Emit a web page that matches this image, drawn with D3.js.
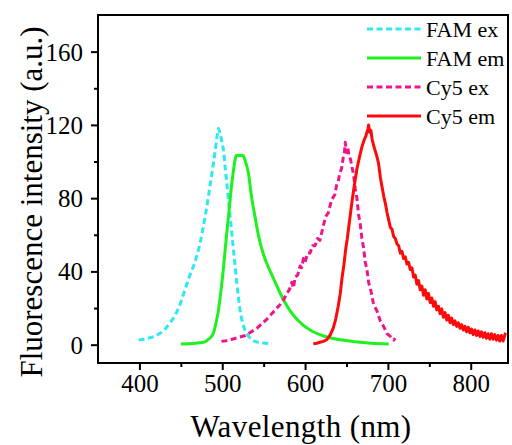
<!DOCTYPE html>
<meta charset="utf-8">
<style>
body { margin: 0; background: #fff; }
.line { fill: none; stroke-width: 3px; stroke-linejoin: round; }
</style>
<body>
<script src="https://d3js.org/d3.v7.min.js"></script>
<script>

// data: [wavelength (nm), intensity (a.u.)]
var famEx = [[399,2.5],[410,3.5],[420,5],[430,8],[437,12],[443,16],[449,22],[455,30],[461,38],[467,45],[473,55],[479,69],[483,80],[486,89],[489,98],[491.5,106],[493.5,113],[495.5,118],[497.5,115],[499.5,111],[501.5,106],[503.5,97],[505.5,88],[507.5,79],[509.5,70],[511.5,61],[513.5,52],[515.5,43],[517.5,34],[519.5,26],[521.5,19],[524,13],[527.5,8],[532,4.5],[538,2],[545,1.2],[550,0.9],[560,0.5]];

var famEm = [[450,0.4],[465,0.6],[471,0.9],[478,1.4],[482,2.5],[486,4],[489.5,6.5],[492.5,12],[495.5,19],[497.5,26],[499.5,33.5],[501.5,42],[503.5,51.7],[505.5,61],[507.5,70],[509.5,79],[511.5,88],[513.5,95],[515.5,101],[517,103.3],[525,103.3],[528,100],[531.5,94],[535,82],[539.5,70],[544,59],[550,49],[556,42],[562,36],[568,30],[574,24.5],[582,18.5],[590,14],[598,10.5],[608,7.5],[618,5.5],[630,3.8],[645,2.5],[660,1.6],[680,0.8],[701,0.4]];

var cy5Ex = [[499,1.8],[505,2.2],[512,3],[520,4],[528,5],[535,7],[542,9],[548,11.5],[554,14],[560,17],[565,19.5],[570,22],[574,24.5],[578,28],[581,30],[584,34],[586,31],[588,37],[591,38],[594,43],[596,42],[598,47],[600,45],[603,50],[606,50],[609,54],[612,54],[615,58],[618,57],[620,61],[622,65],[625,70],[628,72],[632,79],[636,82],[638,87],[640,89],[642,94],[644,96],[646,102],[647.5,105],[648.5,110.5],[650,105],[651.5,108],[653,103],[655,101],[656.6,97],[658.5,93],[660.6,85],[662.6,80],[664.6,71],[666.6,66],[668.6,58],[670.6,53],[672.7,45],[674.7,41],[676.7,34],[679.7,29],[682.7,22],[686.7,18.5],[690.8,13],[694.8,10],[698.9,6],[703,4.5],[707,2.5],[709,3.5]];

var cy5Em = [[610,0.5],[614,0.8],[618,1.3],[622,1.8],[626,2.7],[630,5],[634,9],[637,14],[640,21],[642.5,28],[644.5,36],[647,44],[649,52],[651,58],[653.5,67],[656.6,78],[659.5,87],[662.6,96],[665.5,102],[668.6,108],[671.5,112],[673.5,114],[674.7,116],[676,118],[676.7,120],[678,116],[679.5,117],[681,112],[682.7,109],[684.5,106],[686,104],[688.7,99],[691,91],[693,86],[695,81],[697,77],[699,72],[701,68],[703,64],[705,63],[707,59],[709,58],[711,55],[713,54],[715,50],[717,51],[719,47],[721,48],[723,44],[725,45],[727,41],[729,42],[731,37],[733,38],[735,33],[737,35],[739,30],[741,32],[743,27],[745,30],[747,25],[749,28],[751,23],[753,25.5],[755,21],[757,23.5],[759,19],[761,21],[763,17],[765,19.5],[767,15],[769,17.5],[771,13.5],[773,16],[775,12],[777,14.5],[779,11],[781,13],[783,10],[785,12],[787,9],[789,11],[791,8],[793,10],[795,7],[797,9.5],[799,6.5],[801,8.5],[803,5.5],[805,8],[807,5],[809,7.5],[811,4.5],[813,7],[815,4],[817,6.5],[819,3.5],[821,6],[823,3],[825,6],[827,3],[829,5.5],[831,2.5],[833,5],[835,2],[837,5],[839,2],[841,5],[842,6.5]];

var seriesNames = ["FAM ex", "FAM em", "Cy5 ex", "Cy5 em"];
var xTicks = [400, 500, 600, 700, 800];
var xMinor = [450, 550, 650, 750];
var yTicks = [0, 40, 80, 120, 160];
var yMinor = [20, 60, 100, 140];

var series = [
  {name: seriesNames[0], data: famEx, color: "#2ee8f2", dash: "6,3.5", smooth: true},
  {name: seriesNames[1], data: famEm, color: "#1ff01f", dash: null, smooth: true},
  {name: seriesNames[2], data: cy5Ex, color: "#f0148c", dash: "6,3.5", smooth: false},
  {name: seriesNames[3], data: cy5Em, color: "#ff0a0a", dash: null, smooth: false}
];

var serif = "Liberation Serif";

var margin = {top: 15, right: 4, bottom: 82, left: 98},
    width = 512 - margin.left - margin.right,
    height = 445 - margin.top - margin.bottom;

var x = d3.scaleLinear().domain([350, 845]).range([0, width]);
var y = d3.scaleLinear().domain([-10, 180]).range([height, 0]);

var svg = d3.select("body").append("svg")
    .attr("width", 512)
    .attr("height", 445)
  .append("g")
    .attr("transform", "translate(" + margin.left + "," + margin.top + ")");

// curves
series.forEach(function(s) {
  var line = d3.line()
      .x(function(d) { return x(d[0]); })
      .y(function(d) { return y(d[1]); })
      .curve(s.smooth ? d3.curveMonotoneX : d3.curveLinear);
  svg.append("path")
      .datum(s.data)
      .attr("class", "line")
      .style("stroke", s.color)
      .style("stroke-dasharray", s.dash)
      .attr("d", line);
});

// axes (labels drawn at 20px then scaled up)
var xAxis = svg.append("g")
    .attr("transform", "translate(0," + height + ")")
    .call(d3.axisBottom(x).tickValues(xTicks).tickSize(7).tickPadding(6).tickFormat(d3.format("d")));
xAxis.append("g").call(d3.axisBottom(x).tickValues(xMinor).tickSize(4).tickFormat(""));

var yAxis = svg.append("g")
    .call(d3.axisLeft(y).tickValues(yTicks).tickSize(7).tickPadding(8).tickFormat(d3.format("d")));
yAxis.append("g").call(d3.axisLeft(y).tickValues(yMinor).tickSize(4).tickFormat(""));

svg.selectAll(".domain").remove();
svg.selectAll(".tick line").attr("stroke", "#000").attr("stroke-width", 2);
var k = 25 / 20;
xAxis.selectAll(".tick text")
    .attr("y", null).attr("dy", null)
    .attr("transform", "translate(0,29) scale(" + k + ")");
yAxis.selectAll(".tick text")
    .attr("x", null).attr("dy", null)
    .attr("transform", "translate(-15,8.5) scale(" + k + ")");
svg.selectAll(".tick text")
    .attr("fill", "#000")
    .style("font-family", serif)
    .style("font-size", "20px");

// frame
svg.append("rect")
    .attr("width", width)
    .attr("height", height)
    .attr("fill", "none")
    .attr("stroke", "#000")
    .attr("stroke-width", 2);

// axis titles
var t = 31 / 20;
svg.append("text")
    .attr("transform", "translate(" + (width / 2 - 2) + "," + (height + 74) + ") scale(" + t + ")")
    .attr("text-anchor", "middle")
    .style("font-family", serif)
    .style("font-size", "20px")
    .style("letter-spacing", "0.25px")
    .text("Wavelength (nm)");

svg.append("text")
    .attr("transform", "translate(" + (42 - margin.left) + "," + (202 - margin.top) + ") rotate(-90) scale(" + t + ")")
    .attr("text-anchor", "middle")
    .style("font-family", serif)
    .style("font-size", "20px")
    .text("Fluorescence intensity (a.u.)");

// legend
var legend = svg.append("g")
    .attr("transform", "translate(" + (367 - margin.left) + "," + (29 - margin.top) + ")");

series.forEach(function(s, i) {
  var g = legend.append("g").attr("transform", "translate(0," + (i * 29) + ")");
  g.append("line")
      .attr("x1", 0).attr("x2", 54)
      .attr("stroke", s.color)
      .attr("stroke-width", 3)
      .style("stroke-dasharray", s.dash);
  g.append("text")
      .attr("x", 59)
      .attr("y", 8)
      .style("font-family", serif)
      .style("font-size", "22px")
      .text(s.name);
});

</script>
</body>
